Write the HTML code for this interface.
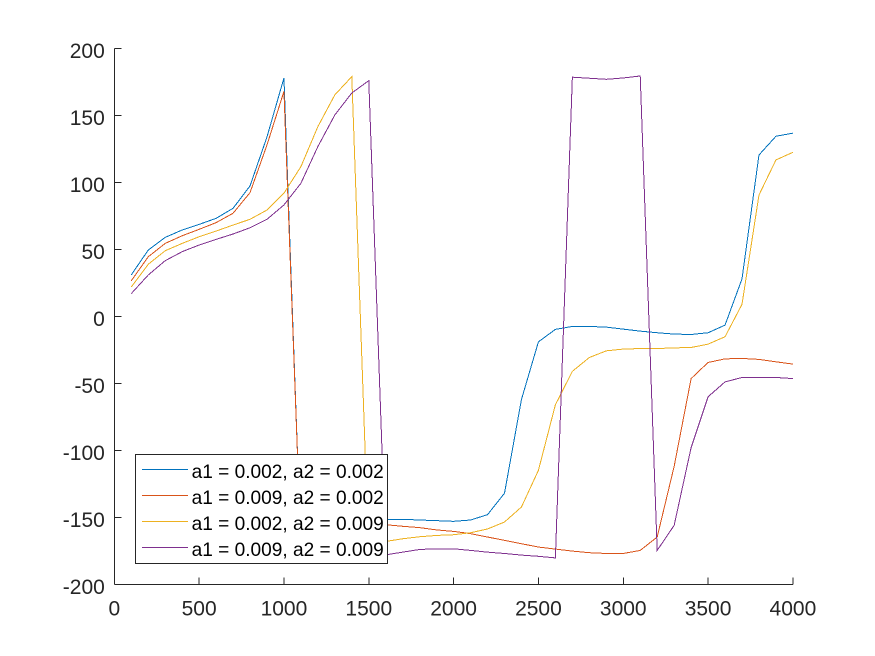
<!DOCTYPE html>
<html lang="en">
<head>
<meta charset="utf-8">
<title>Phase response chart</title>
<style>
  html, body { margin: 0; padding: 0; background: #fff; }
  svg { display: block; font-family: "Liberation Sans", Arial, sans-serif; }
</style>
</head>
<body>
<svg id="chart" width="875" height="656" viewBox="0 0 875 656" xmlns="http://www.w3.org/2000/svg">
  <rect x="0" y="0" width="875" height="656" fill="#ffffff"></rect>
  <g id="series-layer"></g>
  <g id="axes-layer"></g>
  <g>
    <rect x="135.5" y="454.5" width="252" height="109" fill="#ffffff" stroke="#262626" stroke-width="1" shape-rendering="crispEdges"></rect>
    <g>
      <line x1="142" x2="188" y1="469.5" y2="469.5" stroke="#0072BD" stroke-width="1" shape-rendering="crispEdges"></line>
      <text x="191.6" y="478" font-size="19.1" fill="#000">a1 = 0.002, a2 = 0.002</text>
    </g>
    <g>
      <line x1="142" x2="188" y1="495.5" y2="495.5" stroke="#D95319" stroke-width="1" shape-rendering="crispEdges"></line>
      <text x="191.6" y="504" font-size="19.1" fill="#000">a1 = 0.009, a2 = 0.002</text>
    </g>
    <g>
      <line x1="142" x2="188" y1="521.5" y2="521.5" stroke="#EDB120" stroke-width="1" shape-rendering="crispEdges"></line>
      <text x="191.6" y="530" font-size="19.1" fill="#000">a1 = 0.002, a2 = 0.009</text>
    </g>
    <g>
      <line x1="142" x2="188" y1="547.5" y2="547.5" stroke="#7E2F8E" stroke-width="1" shape-rendering="crispEdges"></line>
      <text x="191.6" y="556" font-size="19.1" fill="#000">a1 = 0.009, a2 = 0.009</text>
    </g>
  </g>
</svg>
<script>
const frequencies = [100,200,300,400,500,600,700,800,900,1000,1100,1200,1300,1400,1500,1600,1700,1800,1900,2000,2100,2200,2300,2400,2500,2600,2700,2800,2900,3000,3100,3200,3300,3400,3500,3600,3700,3800,3900,4000];
const seriesA = [31,49.5,59,64.5,68.7,73.2,80.7,97.4,134,178,-173,-166,-160,-155,-152,-151.5,-151.5,-152,-152.5,-153,-152,-148,-132,-62,-19,-9.7,-7.5,-7.5,-8,-9.5,-11,-12.2,-13.2,-13.5,-12.2,-6.5,28,120.5,134.5,136.8];
const seriesB = [26.6,44.5,54.5,60.2,65,70,77,92.4,128,168,-172,-165,-160,-156,-154,-155.5,-156.7,-157.7,-159.4,-160.5,-162.2,-164.7,-167.2,-169.7,-172.2,-173.7,-175.2,-176.4,-177,-177,-174.7,-164.7,-112,-46.4,-34.4,-31.7,-31.4,-32.1,-33.9,-35.6];
const seriesC = [22,38.9,49,54.5,59.5,63.7,68.2,72.5,79.4,92,111.8,141.7,165.4,179,-177,-168,-166,-164.5,-163.5,-163,-161.5,-158.7,-153.5,-142.3,-114.9,-66,-41,-30.7,-25.7,-24.4,-24,-24,-23.5,-23.2,-20.7,-15.2,9,90.6,116.8,122.5];
const seriesD = [17,30.9,41.6,48.3,53.3,57.5,61.5,66.2,72.5,83.2,99.4,126.8,150.4,166.8,176,-178,-176,-174,-173.5,-173.5,-174.7,-176,-177,-178.2,-179.1,-180.3,178.6,177.8,177,178,179.5,-174.7,-156,-98,-60,-48.9,-45.6,-45.6,-45.6,-46.4];
const seriesColors = ['#0072BD','#D95319','#EDB120','#7E2F8E'];
const xTicks = [0,500,1000,1500,2000,2500,3000,3500,4000];
const yTicks = [200,150,100,50,0,-50,-100,-150,-200];

const NS = 'http://www.w3.org/2000/svg';
const plotLeft = 114.3, plotRight = 792.9, plotTop = 48.5, plotBottom = 584.3;
function xScale(v) { return plotLeft + (v - 0) / 4000 * (plotRight - plotLeft); }
function yScale(v) { return plotBottom - (v + 200) / 400 * (plotBottom - plotTop); }

const seriesLayer = document.getElementById('series-layer');
const axesLayer = document.getElementById('axes-layer');

[seriesA, seriesB, seriesC, seriesD].forEach(function (values, i) {
  const line = document.createElementNS(NS, 'polyline');
  
  
  line.setAttribute('points', values.map(function (v, k) {
    return xScale(frequencies[k]).toFixed(2) + ',' + yScale(v).toFixed(2);
  }).join(' '));
  line.setAttribute('fill', 'none');
  line.setAttribute('stroke', seriesColors[i]);
  line.setAttribute('stroke-width', '1');
  line.setAttribute('shape-rendering', 'crispEdges');
  seriesLayer.appendChild(line);
});

const xAxisLine = document.createElementNS(NS, 'line');


xAxisLine.setAttribute('x1', plotLeft);
xAxisLine.setAttribute('x2', plotRight);
xAxisLine.setAttribute('y1', plotBottom);
xAxisLine.setAttribute('y2', plotBottom);
xAxisLine.setAttribute('stroke', '#262626');
xAxisLine.setAttribute('shape-rendering', 'crispEdges');
axesLayer.appendChild(xAxisLine);

const yAxisLine = document.createElementNS(NS, 'line');


yAxisLine.setAttribute('x1', plotLeft);
yAxisLine.setAttribute('x2', plotLeft);
yAxisLine.setAttribute('y1', plotTop);
yAxisLine.setAttribute('y2', plotBottom);
yAxisLine.setAttribute('stroke', '#262626');
yAxisLine.setAttribute('shape-rendering', 'crispEdges');
axesLayer.appendChild(yAxisLine);

xTicks.forEach(function (t) {
  const mark = document.createElementNS(NS, 'line');
  
  
  mark.setAttribute('x1', xScale(t));
  mark.setAttribute('x2', xScale(t));
  mark.setAttribute('y1', plotBottom);
  mark.setAttribute('y2', plotBottom - 7);
  mark.setAttribute('stroke', '#262626');
  mark.setAttribute('shape-rendering', 'crispEdges');
  axesLayer.appendChild(mark);
  const label = document.createElementNS(NS, 'text');
  
  
  label.setAttribute('x', xScale(t));
  label.setAttribute('y', plotBottom + 31);
  label.setAttribute('text-anchor', 'middle');
  label.setAttribute('font-size', '21');
  label.setAttribute('fill', '#262626');
  label.textContent = String(t);
  axesLayer.appendChild(label);
});

yTicks.forEach(function (t) {
  const mark = document.createElementNS(NS, 'line');
  
  
  mark.setAttribute('x1', plotLeft);
  mark.setAttribute('x2', plotLeft + 7);
  mark.setAttribute('y1', yScale(t));
  mark.setAttribute('y2', yScale(t));
  mark.setAttribute('stroke', '#262626');
  mark.setAttribute('shape-rendering', 'crispEdges');
  axesLayer.appendChild(mark);
  const label = document.createElementNS(NS, 'text');
  
  
  label.setAttribute('x', plotLeft - 9.5);
  label.setAttribute('y', yScale(t) + 9.5);
  label.setAttribute('text-anchor', 'end');
  label.setAttribute('font-size', '21');
  label.setAttribute('fill', '#262626');
  label.textContent = String(t);
  axesLayer.appendChild(label);
});
</script>
</body>
</html>
